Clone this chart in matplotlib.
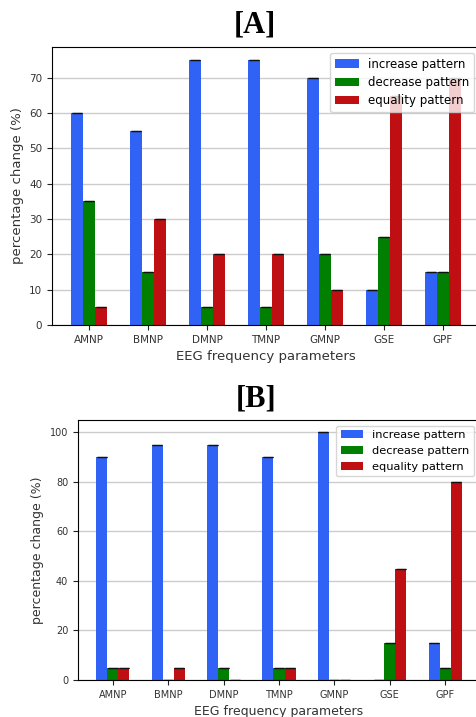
import numpy as np
import matplotlib
matplotlib.use("Agg")
import matplotlib.pyplot as plt

parametros = ["AMNP", "BMNP", "DMNP", "TMNP", "GMNP", "GSE", "GPF"]

# painel A
aumento_a = [60, 55, 75, 75, 70, 10, 15]
queda_a = [35, 15, 5, 5, 20, 25, 15]
igual_a = [5, 30, 20, 20, 10, 65, 70]

# painel B
aumento_b = [90, 95, 95, 90, 100, 0, 15]
queda_b = [5, 0, 5, 5, 0, 15, 5]
igual_b = [5, 5, 0, 5, 0, 45, 80]

series_nomes = ["increase pattern", "decrease pattern", "equality pattern"]
cores = ["#3063f5", "#007f00", "#c00f12"]

W, H = 476, 717


def desenhar(ax, valores, fs_tick, fs_label, fs_leg, espaco):
    x = np.arange(len(parametros))
    largura = 0.2
    for i, (v, nome, cor) in enumerate(zip(valores, series_nomes, cores)):
        ax.bar(x + (i - 1) * largura, v, largura, color=cor, label=nome,
               yerr=np.zeros(len(v)), capsize=3.6,
               error_kw=dict(elinewidth=0, capthick=0.9, ecolor="#111111"))
    ax.set_xticks(x)
    ax.set_xticklabels(parametros, fontsize=fs_tick)
    ax.tick_params(axis="y", labelsize=fs_tick)
    ax.tick_params(colors="#222222", labelcolor="#333333")
    ax.set_xlabel("EEG frequency parameters", fontsize=fs_label, color="#333333")
    ax.set_ylabel("percentage change (%)", fontsize=fs_label, color="#333333")
    ax.grid(axis="y", color="#cccccc", linewidth=1.0)
    ax.set_axisbelow(True)
    ax.legend(loc="upper right", fontsize=fs_leg, handlelength=2.0,
              labelspacing=espaco, borderpad=0.4)


fig = plt.figure(figsize=(W / 100, H / 100), dpi=100)

ax_a = fig.add_axes([52 / W, (H - 325) / H, (480 - 52) / W, (325 - 47) / H])
desenhar(ax_a, [aumento_a, queda_a, igual_a], 7.5, 9.5, 8.5, 0.45)

ax_b = fig.add_axes([78 / W, (H - 680) / H, (480 - 78) / W, (680 - 420) / H])
desenhar(ax_b, [aumento_b, queda_b, igual_b], 7, 9, 8.2, 0.5)

fig.text(255 / W, 1 - 25 / H, "[A]", ha="center", va="center",
         fontsize=22, fontweight="bold", family="Liberation Serif")
fig.text(256 / W, 1 - 399 / H, "[B]", ha="center", va="center",
         fontsize=22, fontweight="bold", family="Liberation Serif")

fig.savefig("out.png", dpi=100)
